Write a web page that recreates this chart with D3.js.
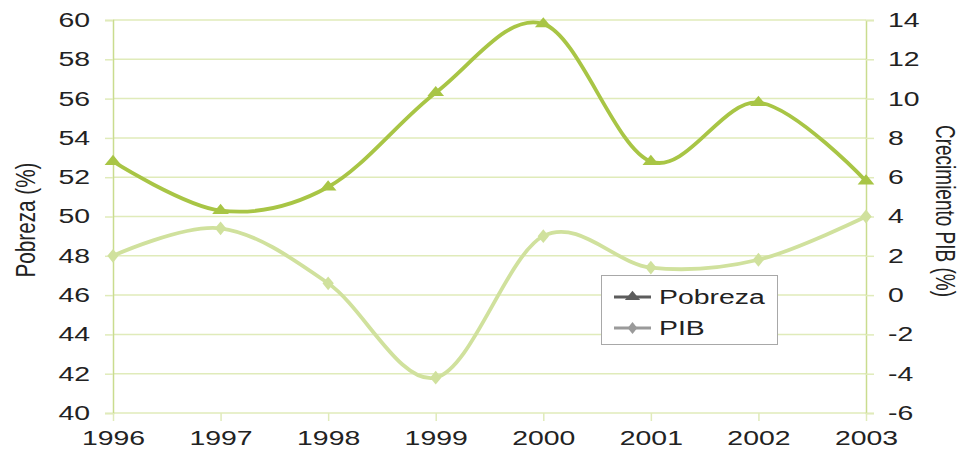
<!DOCTYPE html>
<html><head><meta charset="utf-8">
<script src="https://cdn.jsdelivr.net/npm/d3@7"></script>
<style>
body{margin:0;background:#fff;}
text{font-family:"Liberation Sans",Arial,sans-serif;fill:#222;}
</style></head>
<body><svg id="c" width="962" height="451"></svg>
<script>
const years = ["1996","1997","1998","1999","2000","2001","2002","2003"];
const pobreza = [52.8, 50.3, 51.5, 56.3, 59.8, 52.8, 55.8, 51.8];
const pib = [2.0, 3.4, 0.6, -4.2, 3.0, 1.4, 1.8, 4.0];
const leftTicks = [40,42,44,46,48,50,52,54,56,58,60];
const rightTicks = [-6,-4,-2,0,2,4,6,8,10,12,14];
const seriesNames = ["Pobreza","PIB"];

const S = 1.42; // horizontal stretch of the original image
const svg = d3.select("#c");
const L=113, R=866, T=20, B=413;
const x = d3.scalePoint().domain(years).range([L,R]);
const yL = d3.scaleLinear().domain([40,60]).range([B,T]);
const yR = d3.scaleLinear().domain([-6,14]).range([B,T]);

const gridC="#e0ebba", axC="#c9dc8e";
const cPob="#a8c545", cPib="#d0e19d";

function stretch(sel){
  sel.each(function(){
    const w=this.getComputedTextLength();
    d3.select(this).attr("textLength",w*S).attr("lengthAdjust","spacingAndGlyphs");
  });
}

// gridlines
svg.append("g").selectAll("line").data(leftTicks).join("line")
  .attr("x1",L).attr("x2",R).attr("y1",d=>yL(d)).attr("y2",d=>yL(d))
  .attr("stroke",gridC).attr("stroke-width",1.5);

// left axis
const gl = svg.append("g").attr("transform",`translate(${L},0)`)
  .call(d3.axisLeft(yL).tickValues(leftTicks).tickSize(8).tickPadding(15));
gl.select(".domain").attr("stroke",axC).attr("stroke-width",1.5);
gl.selectAll(".tick line").attr("stroke",gridC).attr("stroke-width",1.5);
gl.selectAll("text").attr("font-size",20).style("fill","#222").call(stretch);

// right axis
const gr = svg.append("g").attr("transform",`translate(${R},0)`)
  .call(d3.axisRight(yR).tickValues(rightTicks).tickSize(8).tickPadding(14)
    .tickFormat(d=>String(d)));
gr.select(".domain").attr("stroke",axC).attr("stroke-width",1.5);
gr.selectAll(".tick line").attr("stroke",gridC).attr("stroke-width",1.5);
gr.selectAll("text").attr("font-size",20).style("fill","#222").call(stretch);

// bottom axis
const gb = svg.append("g").attr("transform",`translate(0,${B})`)
  .call(d3.axisBottom(x).tickSize(8).tickPadding(10));
gb.select(".domain").remove();
gb.selectAll(".tick line").attr("stroke",gridC).attr("stroke-width",1.5);
gb.selectAll("text").attr("font-size",20).style("fill","#222").call(stretch);

// axis titles
svg.append("text").attr("font-size",20)
  .attr("text-anchor","middle").attr("textLength",115).attr("lengthAdjust","spacingAndGlyphs")
  .attr("transform",`translate(35,220) scale(${S},1) rotate(-90)`).text("Pobreza (%)");
svg.append("text").attr("font-size",19)
  .attr("text-anchor","middle").attr("textLength",172).attr("lengthAdjust","spacingAndGlyphs")
  .attr("transform",`translate(936,211) scale(${S},1) rotate(90)`).text("Crecimiento PIB (%)");

const curve = d3.curveCardinal.tension(0);
const linePob = d3.line().x((d,i)=>x(years[i])).y(d=>yL(d)).curve(curve);
const linePib = d3.line().x((d,i)=>x(years[i])).y(d=>yR(d)).curve(curve);

svg.append("path").attr("d",linePib(pib)).attr("fill","none")
  .attr("stroke",cPib).attr("stroke-width",3.8);
svg.append("path").attr("d",linePob(pobreza)).attr("fill","none")
  .attr("stroke",cPob).attr("stroke-width",3.8);

const tri = d3.symbol().type(d3.symbolTriangle).size(60);
const dia = d3.symbol().type(d3.symbolDiamond).size(55);
svg.append("g").selectAll("path").data(pib).join("path")
  .attr("d",dia).attr("fill",cPib)
  .attr("transform",(d,i)=>`translate(${x(years[i])},${yR(d)}) scale(${S},1)`);
svg.append("g").selectAll("path").data(pobreza).join("path")
  .attr("d",tri).attr("fill",cPob)
  .attr("transform",(d,i)=>`translate(${x(years[i])},${yL(d)}) scale(${S},1)`);

// legend
const lg = svg.append("g");
lg.append("rect").attr("x",601.5).attr("y",275.5).attr("width",176).attr("height",69)
  .attr("fill","#fff").attr("stroke","#a8a8a8").attr("stroke-width",1);
const legColors = ["#5c5c5c","#9a9a9a"];
const legSyms = [d3.symbol().type(d3.symbolTriangle).size(50), d3.symbol().type(d3.symbolDiamond).size(40)];
seriesNames.forEach((n,i)=>{
  const yy = 297 + i*31;
  lg.append("line").attr("x1",614).attr("x2",651).attr("y1",yy).attr("y2",yy)
    .attr("stroke",legColors[i]).attr("stroke-width",3);
  lg.append("path").attr("d",legSyms[i]).attr("fill",legColors[i])
    .attr("transform",`translate(632.5,${yy}) scale(${S},1)`);
  lg.append("text").attr("x",659).attr("y",yy+7).attr("font-size",20).text(n).call(stretch);
});
</script></body></html>
